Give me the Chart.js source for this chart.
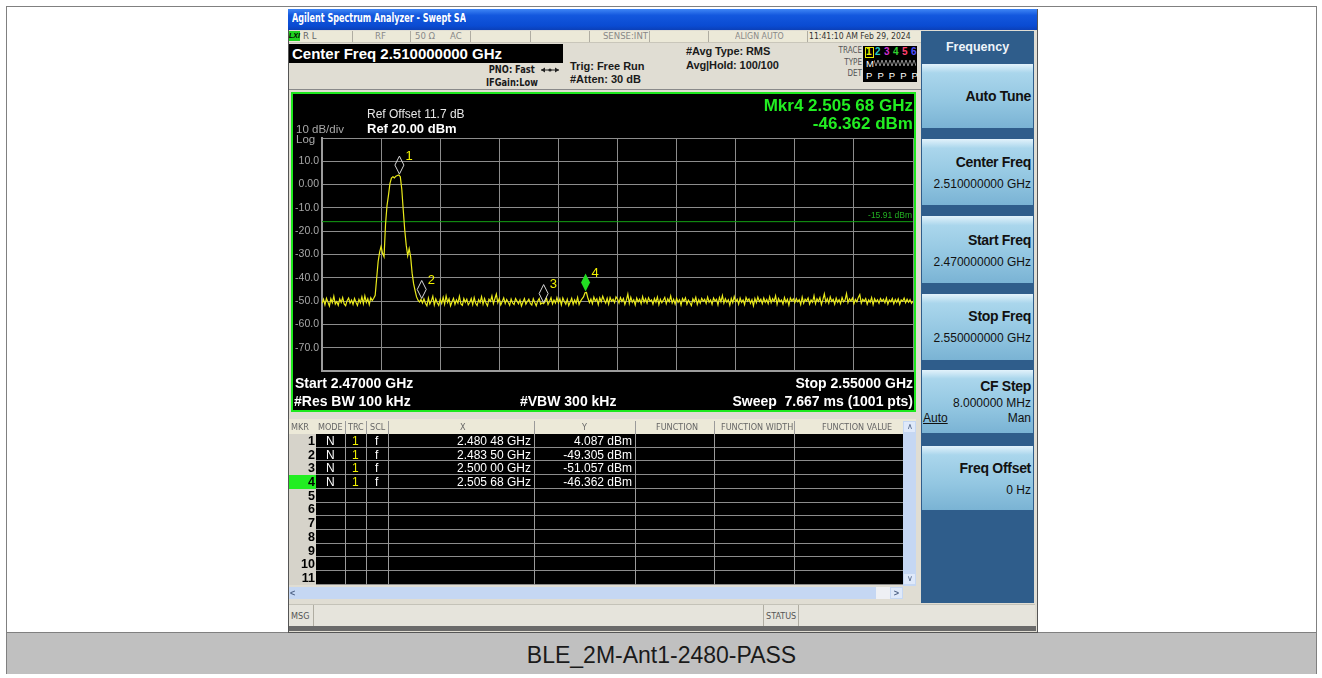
<!DOCTYPE html>
<html>
<head>
<meta charset="utf-8">
<script src="https://cdn.jsdelivr.net/npm/chart.js@4.4.1/dist/chart.umd.min.js"></script>
<style>
body{margin:0;width:1322px;height:678px;background:#fff;position:relative;overflow:hidden;font-family:"Liberation Sans",Arial,sans-serif;}
.a{position:absolute;white-space:nowrap;line-height:1;}
.n{font-family:"Liberation Sans Narrow","DejaVu Sans Condensed","Liberation Sans",Arial,sans-serif;}
.b{font-weight:bold;}
.sl{transform-origin:left center;}
.sr{transform-origin:right center;}
.vs{position:absolute;width:1px;background:#b0ada2;}
.btn{position:absolute;left:922px;width:111px;background:linear-gradient(#e2f2fb 0%,#aad6ec 14%,#92c6e1 60%,#7ab3d4 100%);}
.bt{position:absolute;right:291px;white-space:nowrap;line-height:1;font-weight:bold;font-size:14px;letter-spacing:-0.3px;color:#111;}
.bv{position:absolute;right:291px;white-space:nowrap;line-height:1;font-size:12px;color:#111;}
.pl{position:absolute;white-space:nowrap;line-height:1;color:#fff;font-weight:bold;font-size:14px;}
</style>
</head>
<body>
<div class="a" style="left:6px;top:6px;width:1309px;height:666px;border:1px solid #808080;"></div>
<div class="a" style="left:7px;top:632px;width:1309px;height:41px;background:#c0c0c0;border-top:1px solid #808080;"></div>
<div class="a" style="left:7px;top:643.5px;width:1309px;text-align:center;font-size:23px;color:#1a1a1a;">BLE_2M-Ant1-2480-PASS</div>

<!-- analyzer screen -->
<div class="a" style="left:288px;top:9px;width:748px;height:622px;background:#e0ddd3;border:1px solid #555;"></div>
<div class="a" style="left:288px;top:9px;width:749px;height:21px;background:linear-gradient(#3f86f5 0%,#1358de 30%,#0a4bd2 80%,#0b40b8 100%);"></div>
<div class="a n b sl" style="left:292px;top:13.4px;font-size:11.5px;color:#fff;transform:scaleX(0.78);">Agilent Spectrum Analyzer - Swept SA</div>

<!-- status row -->
<div class="a" style="left:289px;top:31px;width:632px;height:11px;background:#ece9d8;border-bottom:1px solid #c9c6ba;"></div>
<div class="a b" style="left:289px;top:31px;width:11px;height:10px;background:#1fd11f;font-size:7px;line-height:10px;font-style:italic;color:#000;">LXI</div>
<div class="a n" style="left:303px;top:31.4px;font-size:9.5px;color:#666;">R L</div>
<div class="a n" style="left:375px;top:31.4px;font-size:9.5px;color:#888;">RF</div>
<div class="a n" style="left:415px;top:31.4px;font-size:9.5px;color:#888;">50 Ω</div>
<div class="a n" style="left:450px;top:31.4px;font-size:9.5px;color:#888;">AC</div>
<div class="a n" style="right:674px;top:31.4px;font-size:9.5px;color:#888;">SENSE:INT</div>
<div class="a n sl" style="left:735px;top:31.4px;font-size:9.5px;color:#888;transform:scaleX(0.92);">ALIGN AUTO</div>
<div class="a n sl" style="left:809px;top:31.4px;font-size:9.5px;color:#333;transform:scaleX(0.9);">11:41:10 AM Feb 29, 2024</div>
<div class="vs" style="left:352px;top:31px;height:11px;"></div>
<div class="vs" style="left:410px;top:31px;height:11px;"></div>
<div class="vs" style="left:470px;top:31px;height:11px;"></div>
<div class="vs" style="left:530px;top:31px;height:11px;"></div>
<div class="vs" style="left:589px;top:31px;height:11px;"></div>
<div class="vs" style="left:649px;top:31px;height:11px;"></div>
<div class="vs" style="left:708px;top:31px;height:11px;"></div>
<div class="vs" style="left:807px;top:31px;height:11px;"></div>

<!-- settings header -->
<div class="a" style="left:289px;top:44px;width:274px;height:19px;background:#000;"></div>
<div class="a b" style="left:292px;top:46.2px;font-size:15px;color:#fff;">Center Freq 2.510000000 GHz</div>
<div class="a n b sr" style="right:787px;top:64.3px;font-size:11px;color:#1a1a1a;transform:scaleX(0.84);">PNO: Fast</div>
<svg class="a" style="left:540px;top:66px;" width="20" height="8"><line x1="1" y1="4" x2="19" y2="4" stroke="#222" stroke-width="1"/><path d="M1 4 L5 1.5 L5 6.5 Z M19 4 L15 1.5 L15 6.5 Z" fill="#222"/><circle cx="10" cy="4" r="1.6" fill="#222"/></svg>
<div class="a n b sr" style="right:784px;top:76.6px;font-size:11px;color:#1a1a1a;transform:scaleX(0.84);">IFGain:Low</div>
<div class="a b" style="left:570px;top:60.6px;font-size:11px;color:#1a1a1a;">Trig: Free Run</div>
<div class="a b" style="left:570px;top:73.6px;font-size:11px;color:#1a1a1a;">#Atten: 30 dB</div>
<div class="a b" style="left:686px;top:46px;font-size:11px;letter-spacing:-0.1px;color:#1a1a1a;">#Avg Type: RMS</div>
<div class="a b" style="left:686px;top:60px;font-size:11px;letter-spacing:-0.1px;color:#1a1a1a;">Avg|Hold: 100/100</div>
<div class="a n" style="right:460px;top:47px;font-size:8px;color:#555;">TRACE</div>
<div class="a n" style="right:460px;top:58.6px;font-size:8px;color:#555;">TYPE</div>
<div class="a n" style="right:460px;top:70px;font-size:8px;color:#555;">DET</div>
<div class="a" style="left:863px;top:46px;width:54px;height:36px;background:#000;"></div>
<div class="a" style="left:865px;top:47px;width:7px;height:9px;border:1px solid #e8e800;"></div>
<div class="a b" style="left:866px;top:46.5px;font-size:10px;color:#f0f000;">1</div>
<div class="a b" style="left:875px;top:46.5px;font-size:10px;color:#22c8c8;">2</div>
<div class="a b" style="left:884px;top:46.5px;font-size:10px;color:#d030d0;">3</div>
<div class="a b" style="left:893px;top:46.5px;font-size:10px;color:#30d030;">4</div>
<div class="a b" style="left:902px;top:46.5px;font-size:10px;color:#ff4070;">5</div>
<div class="a b" style="left:911px;top:46.5px;font-size:10px;color:#5050ff;">6</div>
<div class="a" style="left:866px;top:58.5px;font-size:9.5px;color:#fff;">M</div>
<svg class="a" style="left:874px;top:59px;" width="42" height="8"><polyline points="0,1 2,7 4,1 6,7 8,1 10,7 12,1 14,7 16,1 18,7 20,1 22,7 24,1 26,7 28,1 30,7 32,1 34,7 36,1 38,7 40,1 42,7" fill="none" stroke="#aaa" stroke-width="0.8"/></svg>
<div class="a" style="left:866px;top:70.5px;font-size:9.5px;color:#fff;word-spacing:2.6px;">P P P P P P</div>
<div class="a" style="left:289px;top:89px;width:632px;height:1px;background:#8a8a8a;"></div>

<!-- plot -->
<div class="a" style="left:291px;top:92px;width:621px;height:316px;border:2px solid #1ee81e;background:#000;">
  <canvas id="spec" width="621" height="316" style="position:absolute;left:0;top:0;"></canvas>
</div>
<div class="a" style="left:367px;top:108.1px;font-size:12px;color:#e6e6e6;">Ref Offset 11.7 dB</div>
<div class="a b" style="left:367px;top:121.9px;font-size:13px;color:#fff;">Ref 20.00 dBm</div>
<div class="a" style="left:296px;top:124px;font-size:11.5px;color:#a8a8a8;">10 dB/div</div>
<div class="a" style="left:296px;top:133.5px;font-size:11.5px;color:#a8a8a8;">Log</div>
<div class="a b" style="right:409px;top:96.7px;font-size:17px;color:#22ee22;">Mkr4 2.505 68 GHz</div>
<div class="a b" style="right:409px;top:115px;font-size:17px;color:#22ee22;">-46.362 dBm</div>
<div class="pl" style="left:295px;top:375.8px;">Start 2.47000 GHz</div>
<div class="pl" style="left:294px;top:393.8px;">#Res BW 100 kHz</div>
<div class="pl" style="left:520px;top:393.8px;">#VBW 300 kHz</div>
<div class="pl" style="right:409px;top:375.8px;">Stop 2.55000 GHz</div>
<div class="pl" style="right:409px;top:393.8px;white-space:pre;">Sweep  7.667 ms (1001 pts)</div>

<!-- marker table -->
<div id="tbl"></div>

<!-- msg bar -->
<div class="a" style="left:289px;top:604px;width:746px;height:22px;background:#e6e4dc;border-top:1px solid #c4c2b8;"></div>
<div class="a n" style="left:291px;top:611.6px;font-size:9px;color:#555;">MSG</div>
<div class="vs" style="left:313px;top:605px;height:21px;"></div>
<div class="vs" style="left:763px;top:605px;height:21px;"></div>
<div class="vs" style="left:798px;top:605px;height:21px;"></div>
<div class="a n" style="left:766px;top:611.6px;font-size:9px;color:#555;">STATUS</div>
<div class="a" style="left:289px;top:626px;width:747px;height:5px;background:#6a6a6a;"></div>

<!-- softkey panel -->
<div class="a" style="left:921px;top:31px;width:113px;height:572px;background:#2f5d8b;"></div>
<div class="a b" style="left:921px;width:113px;text-align:center;top:40.9px;font-size:12.5px;color:#eef4fa;">Frequency</div>
<div class="btn" style="top:64px;height:64px;"></div>
<div class="btn" style="top:139px;height:66px;"></div>
<div class="btn" style="top:216px;height:67px;"></div>
<div class="btn" style="top:294px;height:66px;"></div>
<div class="btn" style="top:370px;height:63px;"></div>
<div class="btn" style="top:446px;height:64px;"></div>
<div class="bt" style="top:89.2px;">Auto Tune</div>
<div class="bt" style="top:155.2px;">Center Freq</div>
<div class="bv" style="top:178.1px;">2.510000000 GHz</div>
<div class="bt" style="top:233.2px;">Start Freq</div>
<div class="bv" style="top:256.1px;">2.470000000 GHz</div>
<div class="bt" style="top:309.2px;">Stop Freq</div>
<div class="bv" style="top:332.1px;">2.550000000 GHz</div>
<div class="bt" style="top:379.2px;">CF Step</div>
<div class="bv" style="top:397.1px;">8.000000 MHz</div>
<div class="a" style="left:923px;top:412.1px;font-size:12px;color:#111;text-decoration:underline;">Auto</div>
<div class="bv" style="top:412.1px;">Man</div>
<div class="bt" style="top:461.2px;">Freq Offset</div>
<div class="bv" style="top:484.1px;">0 Hz</div>

<script>
// sweep settings
const startGHz = 2.47;
const stopGHz = 2.55;
const stepGHz = 0.0002;

// trace 1 levels in dBm, one value every 0.2 MHz from 2.470 GHz
const traceLevels = [
  -50.9,-49.2,-51.6,-48.8,-50.4,-52.1,-49.0,-50.7,-47.9,-51.3,-50.2,-51.8,-49.1,-50.6,-48.5,-51.2,-52.0,-49.8,-48.7,-50.9,
  -49.6,-51.4,-48.9,-50.5,-51.9,-49.3,-50.8,-48.2,-51.1,-47.8,-50.6,-49.0,-51.5,-48.6,-49.8,-48.8,-47.5,-40.2,-33.0,-29.0,
  -26.5,-29.5,-31.0,-17.0,-9.0,-4.5,0.5,2.8,3.4,2.9,3.6,3.9,4.1,3.4,-2.0,-11.0,-19.5,-26.0,-30.5,-27.5,
  -31.0,-38.0,-42.5,-45.5,-48.2,-49.6,-50.4,-49.3,-50.8,-49.0,-50.9,-52.0,-48.7,-51.2,-49.9,-47.9,-51.6,-49.1,-50.7,-51.8,
  -49.2,-51.0,-48.4,-51.3,-47.8,-50.6,-49.0,-52.0,-50.3,-48.8,-51.4,-49.5,-50.9,-47.9,-51.2,-51.8,-48.9,-50.5,-49.2,-51.6,
  -50.6,-48.9,-51.5,-48.5,-50.9,-51.9,-49.4,-50.6,-48.1,-51.3,-48.9,-50.8,-52.0,-49.2,-50.1,-47.8,-51.1,-49.0,-47.0,-50.7,
  -48.9,-51.6,-50.2,-48.6,-51.0,-49.3,-50.5,-51.8,-49.1,-50.8,-51.5,-48.9,-50.0,-51.2,-49.5,-52.1,-50.4,-48.9,-51.3,-50.2,
  -49.2,-51.0,-51.7,-49.0,-50.6,-52.0,-50.0,-48.9,-51.3,-50.7,-51.1,-50.3,-48.8,-51.5,-50.2,-48.6,-51.2,-49.5,-50.8,-48.5,
  -50.7,-49.0,-51.6,-48.7,-50.2,-51.3,-49.2,-51.9,-50.4,-48.8,-51.4,-49.5,-50.9,-48.4,-51.5,-50.0,-49.0,-48.2,-46.4,-46.3,
  -48.8,-50.6,-49.1,-51.1,-48.3,-50.0,-49.0,-51.5,-48.6,-50.3,-47.9,-49.6,-50.9,-48.8,-51.3,-48.5,-50.1,-49.2,-50.7,-48.2,
  -49.1,-50.8,-48.5,-50.2,-48.9,-51.4,-49.6,-47.0,-51.0,-48.4,-50.5,-49.4,-51.7,-48.7,-50.3,-49.2,-51.1,-48.1,-50.5,-49.0,
  -50.9,-48.6,-50.1,-49.5,-51.3,-48.9,-50.5,-48.3,-51.5,-49.2,-50.7,-49.6,-48.4,-51.1,-49.0,-50.3,-47.8,-50.8,-49.2,-51.3,
  -48.8,-50.5,-49.4,-51.7,-48.9,-50.1,-48.6,-51.3,-49.6,-50.7,-51.9,-49.0,-50.3,-48.4,-51.4,-49.4,-50.9,-48.8,-50.1,-49.2,
  -51.0,-48.3,-50.5,-49.5,-51.4,-48.7,-50.0,-49.2,-51.6,-48.5,-50.3,-47.6,-50.9,-49.0,-50.5,-49.4,-51.8,-48.9,-50.7,-48.1,
  -50.3,-49.2,-51.3,-48.7,-50.5,-49.5,-51.5,-48.5,-50.0,-49.0,-50.9,-49.4,-52.0,-48.9,-50.7,-48.3,-50.2,-49.2,-51.1,-48.7,
  -50.5,-49.3,-51.1,-48.2,-50.7,-49.0,-50.1,-47.7,-51.4,-48.9,-50.3,-49.5,-51.3,-48.5,-50.5,-49.2,-51.7,-48.7,-50.0,-49.0,
  -50.7,-48.9,-50.3,-49.4,-51.5,-48.3,-50.9,-49.2,-50.0,-48.7,-51.3,-49.5,-50.5,-47.7,-51.1,-49.0,-50.2,-48.5,-51.5,-49.4,
  -46.9,-50.5,-49.0,-50.9,-48.2,-50.1,-49.2,-51.3,-48.7,-50.5,-49.4,-51.1,-48.5,-50.3,-49.6,-46.8,-50.7,-49.0,-50.0,-48.7,
  -51.1,-49.3,-50.3,-48.4,-47.2,-50.9,-49.2,-50.1,-48.9,-51.3,-49.5,-50.5,-48.5,-51.5,-49.0,-50.3,-49.4,-50.9,-48.9,-50.1,
  -49.2,-50.7,-48.7,-51.3,-49.5,-50.3,-48.9,-51.1,-49.3,-50.5,-49.0,-51.4,-49.5,-50.1,-48.7,-50.7,-49.2,-50.5,-49.4,-50.9,
  -50.0
];

// markers
const markerNums = [1, 2, 3, 4];
const markerFreqs = [2.48048, 2.48350, 2.50000, 2.50568];
const markerLevels = [4.087, -49.305, -51.057, -46.362];
const activeMarker = 4;

// display line
const displayLine = -15.91;

// axes
const xGridGHz = [2.470, 2.478, 2.486, 2.494, 2.502, 2.510, 2.518, 2.526, 2.534, 2.542, 2.550];
const yTickValues = [10, 0, -10, -20, -30, -40, -50, -60, -70];
const yTickLabels = ['10.0', '0.00', '-10.0', '-20.0', '-30.0', '-40.0', '-50.0', '-60.0', '-70.0'];

const tracePoints = traceLevels.map((lvl, i) => ({x: startGHz + i * stepGHz, y: lvl}));

const markerPlugin = {
  id: 'markers',
  afterDatasetsDraw(chart) {
    const c = chart.ctx, xs = chart.scales.x, ys = chart.scales.y;
    c.save();
    // display line label
    c.font = '8.5px "Liberation Sans Narrow", "Liberation Sans", Arial';
    c.fillStyle = '#22b022';
    c.textAlign = 'right';
    c.textBaseline = 'bottom';
    c.fillText('-15.91 dBm', chart.chartArea.right - 1, ys.getPixelForValue(displayLine) - 2);
    for (let i = 0; i < markerNums.length; i++) {
      const px = xs.getPixelForValue(markerFreqs[i]);
      const py = ys.getPixelForValue(markerLevels[i]) - 1;
      c.beginPath();
      c.moveTo(px, py);
      c.lineTo(px + 4.5, py - 9);
      c.lineTo(px, py - 18);
      c.lineTo(px - 4.5, py - 9);
      c.closePath();
      if (markerNums[i] === activeMarker) {
        c.fillStyle = '#22dd22';
        c.fill();
      } else {
        c.strokeStyle = '#d8d8d8';
        c.lineWidth = 1;
        c.stroke();
      }
      c.font = '13px "Liberation Sans", Arial';
      c.fillStyle = '#f0f000';
      c.textAlign = 'left';
      c.textBaseline = 'middle';
      c.fillText(String(markerNums[i]), px + 6, py - 18);
    }
    c.restore();
  }
};

new Chart(document.getElementById('spec').getContext('2d'), {
  type: 'line',
  data: {
    datasets: [
      {data: tracePoints, borderColor: '#eaea1a', borderWidth: 1.2, pointRadius: 0, tension: 0},
      {data: [{x: startGHz, y: displayLine}, {x: stopGHz, y: displayLine}], borderColor: '#14a014', borderWidth: 1, pointRadius: 0}
    ]
  },
  options: {
    responsive: false,
    animation: false,
    layout: {padding: {left: 0, top: 44, right: 1, bottom: 39}},
    plugins: {legend: {display: false}, tooltip: {enabled: false}},
    scales: {
      x: {
        type: 'linear', min: startGHz, max: stopGHz,
        afterBuildTicks: (axis) => { axis.ticks = xGridGHz.map(v => ({value: v})); },
        ticks: {display: false},
        grid: {color: '#8c8c8c', lineWidth: 1, drawTicks: false},
        border: {color: '#9c9c9c', width: 2}
      },
      y: {
        min: -80, max: 20,
        ticks: {
          stepSize: 10, color: '#a8a8a8', padding: 3,
          font: {family: '"Liberation Sans", Arial', size: 10.5},
          callback: (v) => { const i = yTickValues.indexOf(v); return i >= 0 ? yTickLabels[i] : ''; }
        },
        grid: {color: '#8c8c8c', lineWidth: 1, drawTicks: false},
        border: {color: '#9c9c9c', width: 2},
        afterFit: (s) => { s.width = 29; }
      }
    }
  },
  plugins: [markerPlugin]
});

// marker table
const tbl = document.getElementById('tbl');
const rowTop = 434, rowH = 13.72, rowCount = 11;
const colLines = [344.5, 366, 388, 533.5, 635, 713.5, 793.5];
const headers = [['MKR', 291], ['MODE', 318], ['TRC', 348], ['SCL', 370], ['X', 460], ['Y', 582], ['FUNCTION', 656], ['FUNCTION WIDTH', 721], ['FUNCTION VALUE', 822]];
let h = '';
h += '<div class="a" style="left:289px;top:419px;width:627px;height:15px;background:#ece9d8;"></div>';
h += `<div class="a" style="left:316px;top:${rowTop}px;width:587px;height:${rowH * rowCount}px;background:#000;"></div>`;
headers.forEach(([t, x]) => { h += `<div class="a n" style="left:${x}px;top:423px;font-size:9px;color:#666;">${t}</div>`; });
for (let r = 0; r < rowCount; r++) {
  const y = rowTop + r * rowH;
  const bg = (r + 1 === activeMarker) ? '#22ee22' : '#d6d3ca';
  h += `<div class="a" style="left:289px;top:${y}px;width:27px;height:${rowH}px;background:${bg};"></div>`;
  h += `<div class="a b" style="right:${1322 - 315}px;top:${y + 0.8}px;font-size:12.5px;color:#000;">${r + 1}</div>`;
  h += `<div class="a" style="left:316px;top:${y + rowH - 1}px;width:587px;height:1px;background:#8c8c8c;"></div>`;
}
colLines.forEach(x => { h += `<div class="a" style="left:${x}px;top:421px;width:1px;height:${rowH * rowCount + 13}px;background:#9a9a9a;"></div>`; });
markerNums.forEach((m, i) => {
  const y = rowTop + i * rowH + 1;
  const f = markerFreqs[i].toFixed(5);
  const fx = f.slice(0, 5) + ' ' + f.slice(5) + ' GHz';
  const ly = markerLevels[i].toFixed(3) + ' dBm';
  h += `<div class="a" style="left:326px;top:${y}px;font-size:12px;color:#fff;">N</div>`;
  h += `<div class="a" style="left:352px;top:${y}px;font-size:12px;color:#f0f000;">1</div>`;
  h += `<div class="a" style="left:375px;top:${y}px;font-size:12px;color:#fff;">f</div>`;
  h += `<div class="a" style="right:${1322 - 531}px;top:${y}px;font-size:12px;color:#fff;">${fx}</div>`;
  h += `<div class="a" style="right:${1322 - 632}px;top:${y}px;font-size:12px;color:#fff;">${ly}</div>`;
});
// scrollbars
h += '<div class="a" style="left:903px;top:421px;width:13px;height:165px;background:#c5d7f3;"></div>';
h += '<div class="a" style="left:904px;top:422px;width:11px;height:10px;background:#dfe9fa;font-size:8px;color:#4d6185;text-align:center;line-height:10px;">&#x2227;</div>';
h += '<div class="a" style="left:904px;top:574px;width:11px;height:10px;background:#dfe9fa;font-size:8px;color:#4d6185;text-align:center;line-height:10px;">&#x2228;</div>';
h += '<div class="a" style="left:289px;top:587px;width:614px;height:12px;background:#c5d7f3;"></div>';
h += '<div class="a" style="left:876px;top:587px;width:14px;height:12px;background:#eef0f4;"></div>';
h += '<div class="a b" style="left:290px;top:588px;width:10px;height:10px;font-size:9px;color:#4d6185;line-height:10px;">&lt;</div>';
h += '<div class="a b" style="left:891px;top:588px;width:11px;height:10px;background:#dfe9fa;font-size:9px;color:#4d6185;text-align:center;line-height:10px;">&gt;</div>';
tbl.innerHTML = h;
</script>
</body>
</html>
